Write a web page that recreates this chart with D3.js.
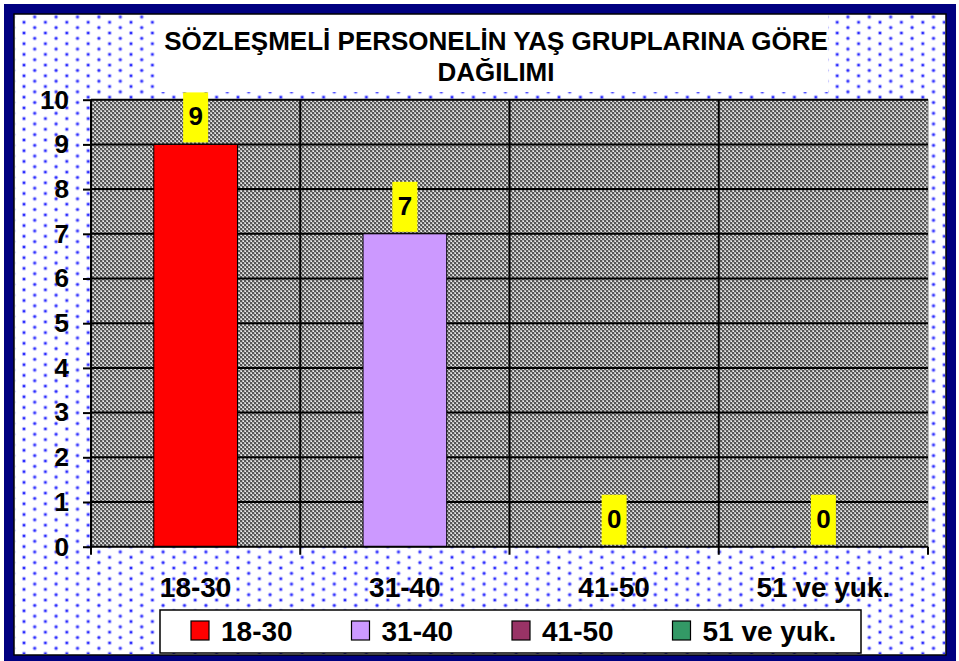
<!DOCTYPE html>
<html>
<head>
<meta charset="utf-8">
<script src="https://cdn.jsdelivr.net/npm/d3@7"></script>
<style>
  html, body { margin: 0; padding: 0; background: #fff; }
  svg { display: block; }
</style>
</head>
<body>
<svg id="chart" width="959" height="661"></svg>
<script>
// --- Data ---
const categories = ["18-30", "31-40", "41-50", "51 ve yuk."];
const counts = [9, 7, 0, 0];
const colors = ["#FF0000", "#CC99FF", "#993366", "#339966"];
const yTicks = [0, 1, 2, 3, 4, 5, 6, 7, 8, 9, 10];
const titleLines = ["SÖZLEŞMELİ PERSONELİN YAŞ GRUPLARINA GÖRE", "DAĞILIMI"];

const width = 959, height = 661;
const font = "'Liberation Sans', Arial, Helvetica, sans-serif";
const plot = { left: 91, right: 928, top: 99.7, bottom: 546.7 };

const svg = d3.select("#chart");
const defs = svg.append("defs");

// dotted blue background pattern
const dots = defs.append("pattern")
  .attr("id", "dots")
  .attr("patternUnits", "userSpaceOnUse")
  .attr("x", 2.6).attr("y", 0.9)
  .attr("width", 21.4).attr("height", 10.7);
[[0, 0], [10.7, 5.35], [21.4, 0], [0, 10.7], [21.4, 10.7]].forEach(([cx, cy]) => {
  dots.append("circle").attr("cx", cx).attr("cy", cy).attr("r", 2.2).attr("fill", "#bcbcff");
  dots.append("circle").attr("cx", cx).attr("cy", cy).attr("r", 1.3).attr("fill", "#2a2aff");
});

// gray checker pattern for the plot area
const checker = defs.append("pattern")
  .attr("id", "checker")
  .attr("patternUnits", "userSpaceOnUse")
  .attr("width", 4).attr("height", 4);
checker.append("rect").attr("width", 4).attr("height", 4).attr("fill", "#b8b8b8");
[[0, 0], [2, 2]].forEach(([x, y]) => {
  checker.append("rect").attr("x", x).attr("y", y).attr("width", 2).attr("height", 2).attr("fill", "#565656");
});
checker.append("rect").attr("x", 3).attr("y", 1).attr("width", 1).attr("height", 1).attr("fill", "#f0f0f0");
checker.append("rect").attr("x", 1).attr("y", 3).attr("width", 1).attr("height", 1).attr("fill", "#f0f0f0");

// --- Frame ---
svg.append("rect").attr("x", 4).attr("y", 4).attr("width", 952).attr("height", 662).attr("fill", "#000080");
svg.append("rect").attr("x", 14).attr("y", 14).attr("width", 932).attr("height", 641)
  .attr("fill", "#fff").attr("stroke", "#000").attr("stroke-width", 1.5);
svg.append("rect").attr("x", 15).attr("y", 15).attr("width", 930).attr("height", 639).attr("fill", "url(#dots)");

// title box
svg.append("rect").attr("x", 155).attr("y", 15).attr("width", 673).attr("height", 77).attr("fill", "#fff");
svg.append("text")
  .attr("text-anchor", "middle")
  .attr("font-family", font).attr("font-weight", "bold").attr("font-size", 26)
  .selectAll("tspan")
  .data(titleLines)
  .join("tspan")
  .attr("x", 496)
  .attr("y", (d, i) => 50 + i * 31)
  .text(d => d);

// --- Scales ---
const xBand = d3.scaleBand().domain(categories).range([plot.left, plot.right]);
const y = d3.scaleLinear().domain([0, 10]).range([plot.bottom, plot.top]);

// plot background
svg.append("rect")
  .attr("x", plot.left).attr("y", plot.top)
  .attr("width", plot.right - plot.left).attr("height", plot.bottom - plot.top)
  .attr("fill", "url(#checker)").attr("stroke", "#808080").attr("stroke-width", 1);

// horizontal gridlines
svg.append("g")
  .selectAll("line")
  .data(yTicks.filter(d => d > 0))
  .join("line")
  .attr("x1", plot.left).attr("x2", plot.right)
  .attr("y1", d => y(d)).attr("y2", d => y(d))
  .attr("stroke", "#000").attr("stroke-width", 2);

// vertical gridlines at category boundaries
const bounds = categories.slice(1).map(c => xBand(c));
svg.append("g")
  .selectAll("line")
  .data(bounds)
  .join("line")
  .attr("x1", d => d).attr("x2", d => d)
  .attr("y1", plot.top).attr("y2", plot.bottom + 8)
  .attr("stroke", "#000").attr("stroke-width", 2);

// bars
svg.append("g")
  .selectAll("rect")
  .data(categories)
  .join("rect")
  .attr("x", d => xBand(d) + xBand.bandwidth() * 0.3)
  .attr("width", xBand.bandwidth() * 0.4)
  .attr("y", (d, i) => y(counts[i]))
  .attr("height", (d, i) => y(0) - y(counts[i]))
  .attr("fill", (d, i) => colors[i])
  .attr("stroke", "#000").attr("stroke-width", 1);

// y axis
const yAxis = svg.append("g")
  .attr("transform", `translate(${plot.left},0)`)
  .call(d3.axisLeft(y).tickValues(yTicks).tickSize(8).tickPadding(14).tickFormat(d3.format("d")));
yAxis.select(".domain").attr("stroke", "#000").attr("stroke-width", 2).attr("d", `M0,${plot.top}V${plot.bottom + 6}`);
yAxis.selectAll(".tick line").attr("stroke", "#000").attr("stroke-width", 2);
yAxis.selectAll(".tick text")
  .attr("font-family", font).attr("font-weight", "bold").attr("font-size", 26).attr("fill", "#000");

// x axis
svg.append("line")
  .attr("x1", plot.left).attr("x2", plot.right)
  .attr("y1", plot.bottom).attr("y2", plot.bottom)
  .attr("stroke", "#000").attr("stroke-width", 2);
svg.append("g")
  .selectAll("line")
  .data([plot.left, plot.right])
  .join("line")
  .attr("x1", d => d).attr("x2", d => d)
  .attr("y1", plot.bottom).attr("y2", plot.bottom + 8)
  .attr("stroke", "#000").attr("stroke-width", 2);
svg.append("g")
  .selectAll("text")
  .data(categories)
  .join("text")
  .attr("x", d => xBand(d) + xBand.bandwidth() / 2)
  .attr("y", 597)
  .attr("text-anchor", "middle")
  .attr("font-family", font).attr("font-weight", "bold").attr("font-size", 28)
  .text(d => d);

// data labels
const labels = svg.append("g")
  .selectAll("g")
  .data(categories)
  .join("g")
  .attr("transform", (d, i) => `translate(${xBand(d) + xBand.bandwidth() / 2},${y(counts[i]) - 2})`);
labels.append("rect")
  .attr("x", -12.5).attr("y", -50).attr("width", 25).attr("height", 50)
  .attr("fill", "#FFFF00");
labels.append("text")
  .attr("y", -17)
  .attr("text-anchor", "middle")
  .attr("font-family", font).attr("font-weight", "bold").attr("font-size", 26)
  .text((d, i) => counts[i]);

// legend
svg.append("rect").attr("x", 160).attr("y", 610).attr("width", 701).attr("height", 43)
  .attr("fill", "#fff").attr("stroke", "#000").attr("stroke-width", 1.5);
const legend = svg.append("g")
  .selectAll("g")
  .data(categories)
  .join("g")
  .attr("transform", (d, i) => `translate(${191 + i * 160.5},621)`);
legend.append("rect")
  .attr("width", 18).attr("height", 19)
  .attr("fill", (d, i) => colors[i])
  .attr("stroke", "#000").attr("stroke-width", 1.2);
legend.append("text")
  .attr("x", 30).attr("y", 20)
  .attr("font-family", font).attr("font-weight", "bold").attr("font-size", 28)
  .text(d => d);
</script>
</body>
</html>
